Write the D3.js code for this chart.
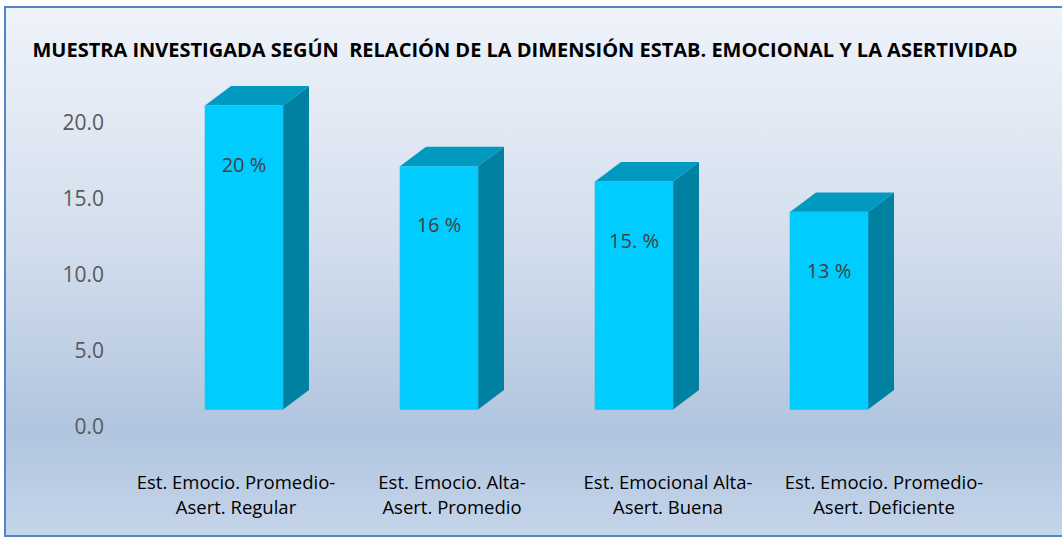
<!DOCTYPE html>
<html>
<head>
<meta charset="utf-8">
<script src="https://cdn.jsdelivr.net/npm/d3@7"></script>
<style>
  body { margin: 0; background: #fff; }
  text { font-family: "Open Sans", sans-serif; }
</style>
</head>
<body>
<div id="chart"></div>
<script>
var categories = [
    ["Est. Emocio. Promedio-", "Asert. Regular"],
    ["Est. Emocio. Alta-", "Asert. Promedio"],
    ["Est. Emocional Alta-", "Asert. Buena"],
    ["Est. Emocio. Promedio-", "Asert. Deficiente"]
];
var values = [20, 16, 15, 13];
var valueLabels = ["20 %", "16 %", "15. %", "13 %"];
var tickValues = [0, 5, 10, 15, 20];
var title = "MUESTRA INVESTIGADA SEGÚN  RELACIÓN DE LA DIMENSIÓN ESTAB. EMOCIONAL Y LA ASERTIVIDAD";

var width = 1062,
    height = 539;

// 3d depth of the bars
var depthX = 26,
    depthY = 19.5,
    frontShift = -16.5;

var svg = d3.select("#chart")
    .append("svg")
    .attr("width", width)
    .attr("height", height);

var defs = svg.append("defs");
var grad = defs.append("linearGradient")
    .attr("id", "bg")
    .attr("x1", 0).attr("y1", 0)
    .attr("x2", 0).attr("y2", 1);
grad.append("stop").attr("offset", "0%").attr("stop-color", "#eff3fa");
grad.append("stop").attr("offset", "45%").attr("stop-color", "#d2deed");
grad.append("stop").attr("offset", "80%").attr("stop-color", "#b1c5df");
grad.append("stop").attr("offset", "100%").attr("stop-color", "#c5d5ea");

// chart background and border
svg.append("rect")
    .attr("x", 5)
    .attr("y", 7)
    .attr("width", width)
    .attr("height", 529)
    .attr("fill", "url(#bg)");

svg.append("path")
    .attr("d", "M" + width + ",7H5V536H" + width)
    .attr("fill", "none")
    .style("stroke", "#5585c5")
    .style("stroke-width", 2);

// title
svg.append("text")
    .attr("x", 525)
    .attr("y", 57)
    .attr("text-anchor", "middle")
    .attr("textLength", 985)
    .attr("lengthAdjust", "spacingAndGlyphs")
    .style("font-size", "20px")
    .style("font-weight", "bold")
    .style("fill", "#000")
    .style("white-space", "pre")
    .text(title);

var x = d3.scaleBand()
    .domain(d3.range(values.length))
    .range([146.5, 926.5])
    .paddingInner(0.6)
    .paddingOuter(0.3);

var y = d3.scaleLinear()
    .domain([0, 20])
    .range([426, 122]);

var xLabel = d3.scalePoint()
    .domain(d3.range(values.length))
    .range([236, 884]);

// Y axis (labels only)
var yAxis = svg.append("g")
    .attr("transform", "translate(104,0)")
    .call(d3.axisLeft(y)
        .tickValues(tickValues)
        .tickSize(0)
        .tickPadding(0)
        .tickFormat(d3.format(".1f")));

yAxis.select(".domain").remove();
yAxis.selectAll("text")
    .attr("dy", "0.35em")
    .style("font-size", "21px")
    .style("font-family", "Open Sans")
    .style("fill", "#595959");

// bars
var bars = svg.append("g")
    .selectAll("g")
    .data(values)
    .enter().append("g");

function fx(i) { return x(i); }
function fy(d) { return y(d) + frontShift; }
var bw = x.bandwidth(),
    base = y(0) + frontShift;

bars.append("path")
    .attr("fill", "#0081a1")
    .attr("d", function (d, i) {
        var x1 = fx(i) + bw;
        return "M" + x1 + "," + fy(d) + "L" + (x1 + depthX) + "," + (fy(d) - depthY) +
            "L" + (x1 + depthX) + "," + (base - depthY) + "L" + x1 + "," + base + "Z";
    });

bars.append("path")
    .attr("fill", "#009ac1")
    .attr("d", function (d, i) {
        var x0 = fx(i), x1 = fx(i) + bw, t = fy(d);
        return "M" + x0 + "," + t + "L" + (x0 + depthX) + "," + (t - depthY) +
            "L" + (x1 + depthX) + "," + (t - depthY) + "L" + x1 + "," + t + "Z";
    });

bars.append("rect")
    .attr("fill", "#00ccff")
    .attr("stroke", "#33bde0")
    .attr("stroke-width", 0.6)
    .attr("x", function (d, i) { return fx(i); })
    .attr("y", function (d) { return fy(d); })
    .attr("width", bw)
    .attr("height", function (d) { return base - fy(d); });

// value labels
bars.append("text")
    .attr("x", function (d, i) { return fx(i) + bw / 2; })
    .attr("y", function (d) { return fy(d) + 66; })
    .attr("text-anchor", "middle")
    .style("font-size", "20px")
    .style("fill", "#404040")
    .text(function (d, i) { return valueLabels[i]; });

// category labels
var cats = svg.append("g")
    .selectAll("text")
    .data(categories)
    .enter().append("text")
    .attr("text-anchor", "middle")
    .style("font-size", "18.5px")
    .style("fill", "#000");

cats.append("tspan")
    .attr("x", function (d, i) { return xLabel(i); })
    .attr("y", 489)
    .text(function (d) { return d[0]; });

cats.append("tspan")
    .attr("x", function (d, i) { return xLabel(i); })
    .attr("y", 514)
    .text(function (d) { return d[1]; });
</script>
</body>
</html>
